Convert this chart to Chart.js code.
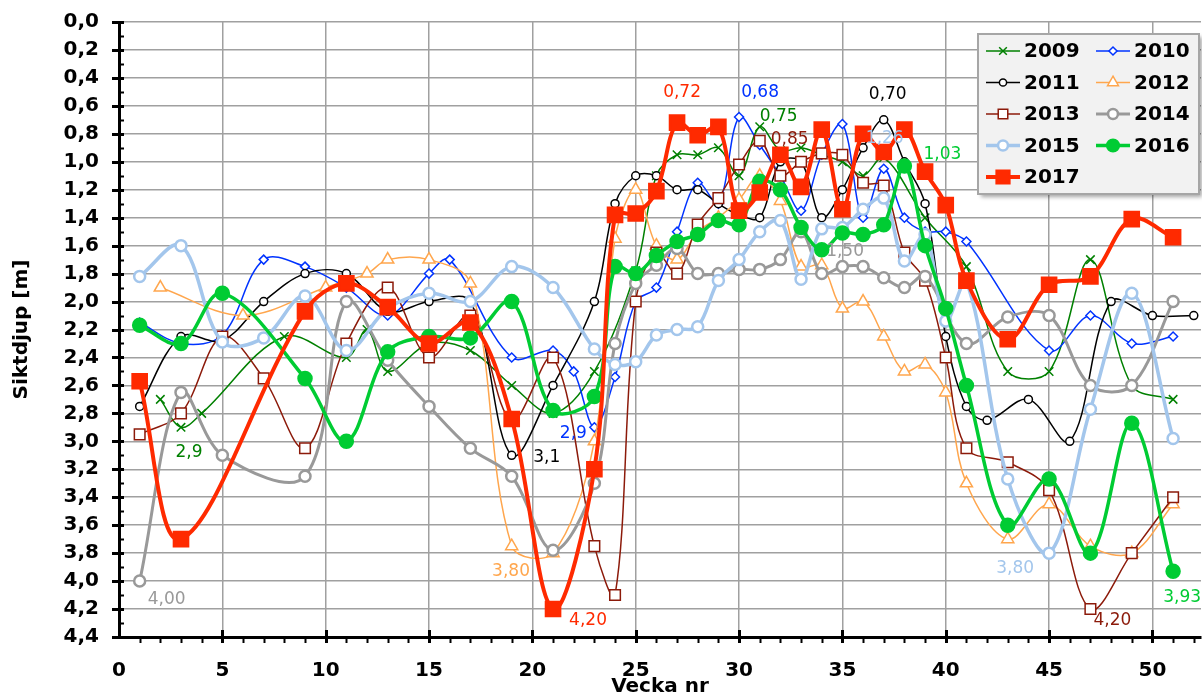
<!DOCTYPE html>
<html>
<head>
  <script src="https://cdn.jsdelivr.net/npm/chart.js"></script>
  <style>
    body { margin: 0px; background: #ffffff; }
    canvas { display: block; }
  </style>
</head>
<body>
  <canvas id="siktChart" width="1202" height="699"></canvas>

  <script>
    // Siktdjup (m) per vecka, one pair of arrays per year
    var weeks2009 = [2, 3, 4, 8, 11, 12, 13, 15, 17, 19, 21, 23, 25, 26, 27, 28, 29, 30, 31, 32, 33, 34, 35, 36, 37, 39, 41, 43, 45, 47, 49, 51];
    var depth2009 = [2.70, 2.90, 2.80, 2.25, 2.40, 2.20, 2.50, 2.30, 2.35, 2.60, 2.80, 2.50, 1.78, 1.10, 0.95, 0.95, 0.90, 1.10, 0.75, 0.92, 0.90, 0.95, 1.00, 1.10, 0.97, 1.40, 1.75, 2.50, 2.50, 1.70, 2.60, 2.70];

    var weeks2010 = [1, 3, 5, 7, 9, 11, 13, 15, 16, 19, 21, 22, 23, 24, 25, 26, 27, 28, 29, 30, 31, 32, 33, 34, 35, 36, 37, 38, 39, 40, 41, 45, 47, 49, 51];
    var depth2010 = [2.15, 2.30, 2.24, 1.70, 1.75, 1.90, 2.10, 1.80, 1.70, 2.40, 2.35, 2.50, 2.90, 2.54, 2.00, 1.90, 1.50, 1.15, 1.30, 0.68, 0.88, 1.10, 1.35, 0.95, 0.73, 1.40, 1.05, 1.40, 1.50, 1.50, 1.57, 2.35, 2.10, 2.30, 2.25];

    var weeks2011 = [1, 3, 5, 7, 9, 11, 13, 15, 17, 19, 21, 23, 24, 25, 26, 27, 28, 29, 30, 31, 32, 33, 34, 35, 36, 37, 38, 39, 40, 41, 42, 44, 46, 48, 50, 52];
    var depth2011 = [2.75, 2.25, 2.28, 2.00, 1.80, 1.80, 2.07, 2.00, 2.00, 3.10, 2.60, 2.00, 1.30, 1.10, 1.10, 1.20, 1.20, 1.30, 1.38, 1.40, 1.00, 1.00, 1.40, 1.20, 0.90, 0.70, 1.00, 1.30, 2.25, 2.75, 2.85, 2.70, 3.00, 2.00, 2.10, 2.10];

    var weeks2012 = [2, 6, 10, 12, 13, 15, 17, 19, 21, 23, 24, 25, 26, 27, 28, 29, 30, 31, 32, 33, 34, 35, 36, 37, 38, 39, 40, 41, 43, 45, 47, 49, 51];
    var depth2012 = [1.90, 2.10, 1.90, 1.80, 1.70, 1.70, 1.87, 3.75, 3.80, 3.00, 1.55, 1.20, 1.60, 1.70, 1.50, 1.40, 1.27, 1.10, 1.28, 1.75, 1.74, 2.05, 2.00, 2.25, 2.50, 2.45, 2.65, 3.30, 3.70, 3.45, 3.75, 3.80, 3.45];

    var weeks2013 = [1, 3, 5, 7, 9, 11, 13, 15, 17, 19, 21, 23, 24, 25, 26, 27, 28, 29, 30, 31, 32, 33, 34, 35, 36, 37, 38, 39, 40, 41, 43, 45, 47, 49, 51];
    var depth2013 = [2.95, 2.80, 2.25, 2.55, 3.05, 2.30, 1.90, 2.40, 2.10, 2.85, 2.40, 3.75, 4.10, 2.00, 1.65, 1.80, 1.45, 1.26, 1.02, 0.85, 1.10, 1.00, 0.94, 0.95, 1.15, 1.17, 1.65, 1.85, 2.40, 3.05, 3.15, 3.35, 4.20, 3.80, 3.40];

    var weeks2014 = [1, 3, 5, 9, 11, 13, 15, 17, 19, 21, 23, 24, 25, 26, 27, 28, 29, 30, 31, 32, 33, 34, 35, 36, 37, 38, 39, 41, 43, 45, 47, 49, 51];
    var depth2014 = [4.00, 2.65, 3.10, 3.25, 2.00, 2.42, 2.75, 3.05, 3.25, 3.78, 3.30, 2.30, 1.87, 1.74, 1.62, 1.80, 1.80, 1.77, 1.77, 1.70, 1.50, 1.80, 1.75, 1.75, 1.83, 1.90, 1.82, 2.30, 2.11, 2.10, 2.60, 2.60, 2.00];

    var weeks2015 = [1, 3, 5, 7, 9, 11, 13, 15, 17, 19, 21, 23, 24, 25, 26, 27, 28, 29, 30, 31, 32, 33, 34, 35, 36, 37, 38, 39, 40, 41, 43, 45, 47, 49, 51];
    var depth2015 = [1.82, 1.60, 2.29, 2.26, 1.96, 2.35, 2.05, 1.94, 2.00, 1.75, 1.90, 2.34, 2.45, 2.43, 2.24, 2.20, 2.18, 1.85, 1.70, 1.50, 1.42, 1.84, 1.48, 1.47, 1.34, 1.26, 1.71, 1.52, 2.14, 1.86, 3.27, 3.80, 2.77, 1.94, 2.98];

    var weeks2016 = [1, 3, 5, 9, 11, 13, 15, 17, 19, 21, 23, 24, 25, 26, 27, 28, 29, 30, 31, 32, 33, 34, 35, 36, 37, 38, 39, 40, 41, 43, 45, 47, 49, 51];
    var depth2016 = [2.17, 2.30, 1.94, 2.55, 3.00, 2.36, 2.25, 2.26, 2.00, 2.78, 2.68, 1.75, 1.80, 1.67, 1.57, 1.52, 1.42, 1.45, 1.14, 1.20, 1.47, 1.63, 1.51, 1.52, 1.45, 1.03, 1.60, 2.05, 2.60, 3.60, 3.27, 3.80, 2.87, 3.93];

    var weeks2017 = [1, 3, 9, 11, 13, 15, 17, 19, 21, 23, 24, 25, 26, 27, 28, 29, 30, 31, 32, 33, 34, 35, 36, 37, 38, 39, 40, 41, 43, 45, 47, 49, 51];
    var depth2017 = [2.57, 3.70, 2.07, 1.87, 2.04, 2.30, 2.15, 2.84, 4.20, 3.20, 1.38, 1.37, 1.21, 0.72, 0.81, 0.75, 1.35, 1.22, 0.95, 1.18, 0.77, 1.34, 0.80, 0.93, 0.77, 1.07, 1.31, 1.85, 2.27, 1.88, 1.82, 1.41, 1.54];

    var years = ['2009', '2010', '2011', '2012', '2013', '2014', '2015', '2016', '2017'];
    var allWeeks = [weeks2009, weeks2010, weeks2011, weeks2012, weeks2013, weeks2014, weeks2015, weeks2016, weeks2017];
    var allDepths = [depth2009, depth2010, depth2011, depth2012, depth2013, depth2014, depth2015, depth2016, depth2017];

    // values written next to single points
    var labelYear = ['2009', '2014', '2011', '2010', '2012', '2017', '2017', '2010', '2009', '2013', '2011', '2015', '2014', '2016', '2015', '2013', '2016'];
    var labelWeek = [3, 1, 19, 23, 21, 21, 27, 30, 31, 31, 37, 37, 33, 38, 45, 47, 51];
    var labelText = ['2,9', '4,00', '3,1', '2,9', '3,80', '4,20', '0,72', '0,68', '0,75', '0,85', '0,70', '1,26', '1,50', '1,03', '3,80', '4,20', '3,93'];

    // styles
    var colors = ['#008000', '#0033ff', '#000000', '#ffa64d', '#8c1a0a', '#999999', '#a3c6ec', '#00cc33', '#ff2a00'];
    var lineWidths = [1.5, 1.5, 1.5, 1.5, 1.5, 3, 3.5, 3.5, 4];
    var markers = ['crossRot', 'rectRot', 'circle', 'triangle', 'rect', 'circle', 'circle', 'circle', 'rect'];
    var markerSizes = [6, 4.5, 4, 7, 7.5, 5.5, 5.5, 6.5, 10];
    var markerFilled = [false, false, false, false, false, false, false, true, true];
    var labelOffsets = [[8, 25], [27, 18], [35, 2], [-21, 6], [-42, 18], [35, 12], [5, -30], [21, -24], [19, -10], [30, -1],
                        [4, -25], [1, -60], [44, 20], [38, -11], [-34, 15], [22, 12], [9, 26]];

    var datasets = years.map(function(year, i) {
      return {
        label: year,
        data: allWeeks[i].map(function(w, j) { return { x: w, y: allDepths[i][j] }; }),
        borderColor: colors[i],
        borderWidth: lineWidths[i],
        pointStyle: markers[i],
        pointRadius: markerSizes[i],
        pointBorderColor: colors[i],
        pointBackgroundColor: markerFilled[i] ? colors[i] : '#ffffff',
        pointBorderWidth: lineWidths[i] > 2 ? 2.5 : 1.5,
        tension: 0.35,
        fill: false,
        order: years.length - i
      };
    });

    function drawMarker(ctx, style, x, y, r, filled) {
      ctx.beginPath();
      if (style === 'circle') {
        ctx.arc(x, y, r, 0, Math.PI * 2);
      } else if (style === 'rect') {
        var s = r * Math.SQRT1_2;
        ctx.rect(x - s, y - s, 2 * s, 2 * s);
      } else if (style === 'rectRot') {
        ctx.moveTo(x - r, y); ctx.lineTo(x, y - r); ctx.lineTo(x + r, y); ctx.lineTo(x, y + r); ctx.closePath();
      } else if (style === 'triangle') {
        ctx.moveTo(x, y - r);
        ctx.lineTo(x + r * Math.sin(2 * Math.PI / 3), y - r * Math.cos(2 * Math.PI / 3));
        ctx.lineTo(x + r * Math.sin(4 * Math.PI / 3), y - r * Math.cos(4 * Math.PI / 3));
        ctx.closePath();
      } else if (style === 'crossRot') {
        var c = r * Math.SQRT1_2;
        ctx.moveTo(x - c, y - c); ctx.lineTo(x + c, y + c);
        ctx.moveTo(x + c, y - c); ctx.lineTo(x - c, y + c);
      }
      if (style !== 'crossRot') {
        ctx.fillStyle = filled ? ctx.strokeStyle : '#ffffff';
        ctx.fill();
      }
      ctx.stroke();
    }

    // minor and major tick marks on both axes
    var axisTicks = {
      id: 'axisTicks',
      afterDraw: function(chart) {
        var ctx = chart.ctx, a = chart.chartArea;
        var xs = chart.scales.x, ys = chart.scales.y;
        ctx.save();
        ctx.strokeStyle = '#000000';
        for (var v = 0; v <= 44; v++) {
          var py = Math.round(ys.getPixelForValue(v / 10)) + 0.5;
          var major = v % 2 === 0;
          ctx.lineWidth = major ? 3 : 2;
          ctx.beginPath();
          ctx.moveTo(major ? a.left - 7 : a.left, py);
          ctx.lineTo(a.left + 5, py);
          ctx.stroke();
        }
        for (var w = 1; w <= 52; w++) {
          var px = Math.round(xs.getPixelForValue(w)) + 0.5;
          var big = w % 5 === 0;
          ctx.lineWidth = big ? 3 : 2;
          ctx.beginPath();
          ctx.moveTo(px, big ? a.bottom - 7 : a.bottom);
          ctx.lineTo(px, a.bottom + 6);
          ctx.stroke();
        }
        ctx.restore();
      }
    };

    // coloured values next to chosen points
    var valueLabels = {
      id: 'valueLabels',
      afterDatasetsDraw: function(chart) {
        var ctx = chart.ctx;
        ctx.save();
        ctx.font = '17px "DejaVu Sans"';
        ctx.textAlign = 'center';
        ctx.textBaseline = 'middle';
        labelYear.forEach(function(year, i) {
          var di = years.indexOf(year);
          var pi = allWeeks[di].indexOf(labelWeek[i]);
          var el = chart.getDatasetMeta(di).data[pi];
          ctx.fillStyle = colors[di];
          ctx.fillText(labelText[i], el.x + labelOffsets[i][0], el.y + labelOffsets[i][1]);
        });
        ctx.restore();
      }
    };

    // two column legend box in the upper right corner
    var legendBox = {
      id: 'legendBox',
      afterDraw: function(chart) {
        var ctx = chart.ctx, a = chart.chartArea;
        var bw = 221, bh = 160;
        var bx = a.right - 2 - bw, by = a.top + 12;
        ctx.save();
        ctx.shadowColor = 'rgba(0,0,0,0.35)';
        ctx.shadowOffsetX = 3;
        ctx.shadowOffsetY = 3;
        ctx.shadowBlur = 4;
        ctx.fillStyle = '#f2f2f2';
        ctx.fillRect(bx, by, bw, bh);
        ctx.shadowColor = 'transparent';
        ctx.strokeStyle = '#a6a6a6';
        ctx.lineWidth = 2;
        ctx.strokeRect(bx, by, bw, bh);
        ctx.font = 'bold 20px "DejaVu Sans"';
        ctx.textBaseline = 'middle';
        ctx.textAlign = 'left';
        years.forEach(function(year, i) {
          var col = i % 2, row = Math.floor(i / 2);
          var lx = bx + 8 + col * 110;
          var ly = by + 17 + row * 31.5;
          ctx.strokeStyle = colors[i];
          ctx.lineWidth = lineWidths[i];
          ctx.beginPath();
          ctx.moveTo(lx, ly);
          ctx.lineTo(lx + 34, ly);
          ctx.stroke();
          ctx.lineWidth = lineWidths[i] > 2 ? 2.5 : 1.5;
          drawMarker(ctx, markers[i], lx + 17, ly, markerSizes[i] * 0.9, markerFilled[i]);
          ctx.fillStyle = '#000000';
          ctx.fillText(year, lx + 38, ly + 1);
        });
        ctx.restore();
      }
    };

    var config = {
      type: 'line',
      data: { datasets: datasets },
      options: {
        responsive: false,
        animation: false,
        events: [],
        layout: { autoPadding: false, padding: { top: 22, right: 1, left: 0, bottom: 0 } },
        plugins: {
          legend: { display: false },
          tooltip: { enabled: false }
        },
        scales: {
          x: {
            type: 'linear',
            min: 0,
            max: 52.35,
            afterFit: function(scale) { scale.height = 62; },
            grid: {
              color: function(c) { return c.tick && c.tick.value === 0 ? 'rgba(0,0,0,0)' : '#a0a0a0'; },
              lineWidth: 1.5,
              drawTicks: true,
              tickLength: 22,
              tickColor: 'rgba(0,0,0,0)'
            },
            border: { display: true, color: '#000000', width: 3 },
            ticks: {
              stepSize: 5,
              includeBounds: false,
              padding: 0,
              color: '#000000',
              font: { family: 'DejaVu Sans', size: 20, weight: 'bold' },
              maxRotation: 0
            },
            title: {
              display: true,
              text: 'Vecka nr',
              color: '#000000',
              font: { family: 'DejaVu Sans', size: 20, weight: 'bold' },
              padding: { top: 0, bottom: 0 }
            }
          },
          y: {
            reverse: true,
            min: 0,
            max: 4.4,
            afterFit: function(scale) { scale.width = 119; },
            grid: { color: '#a0a0a0', lineWidth: 1.5, drawTicks: true, tickLength: 20, tickColor: 'rgba(0,0,0,0)' },
            border: { display: true, color: '#000000', width: 3 },
            ticks: {
              stepSize: 0.2,
              maxTicksLimit: 30,
              autoSkip: false,
              padding: 0,
              color: '#000000',
              font: { family: 'DejaVu Sans', size: 20, weight: 'bold' },
              callback: function(value) { return value.toFixed(1).replace('.', ','); }
            },
            title: {
              display: true,
              text: 'Siktdjup [m]',
              color: '#000000',
              font: { family: 'DejaVu Sans', size: 20, weight: 'bold' },
              padding: { top: 10, bottom: 0 }
            }
          }
        }
      },
      plugins: [valueLabels, axisTicks, legendBox]
    };

    var ctx = document.getElementById('siktChart').getContext('2d');
    new Chart(ctx, config);
  </script>
</body>
</html>
